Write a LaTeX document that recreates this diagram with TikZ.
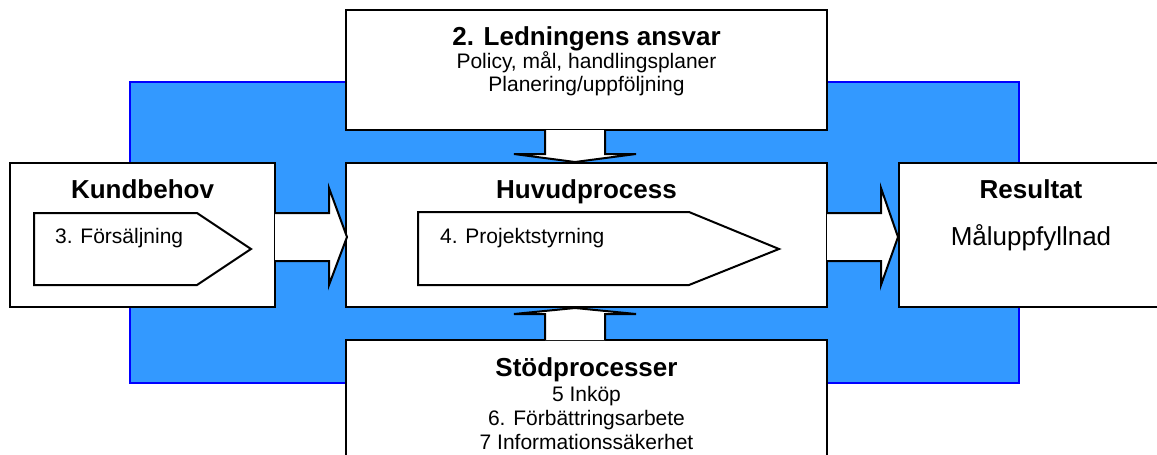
\documentclass[tikz,border=0pt]{standalone}
\usepackage{fontspec}
\setmainfont{Liberation Sans}
\definecolor{bgblue}{RGB}{51,153,255}
\definecolor{bgedge}{RGB}{0,0,255}
\begin{document}
\begin{tikzpicture}[x=1pt,y=-1pt,
  box/.style={draw=black, line width=2.2pt, fill=white, inner sep=0pt, outer sep=0pt, anchor=north west},
  ttl/.style={font=\bfseries\fontsize{26}{30}\selectfont, inner sep=0pt, anchor=base},
  body/.style={font=\fontsize{21}{24}\selectfont, inner sep=0pt, anchor=base},
  barrow/.style={draw=black, line width=2pt, fill=white, line join=miter},
  pent/.style={draw=black, line width=2pt, fill=white, line join=miter}]
\useasboundingbox (0,0) rectangle (1157,455);
% background
\node[draw=bgedge, fill=bgblue, line width=2pt, inner sep=0pt, outer sep=0pt, anchor=north west,
  minimum width=889pt, minimum height=301pt] (bg) at (130,82) {};
% boxes
\node[box, minimum width=481pt, minimum height=120pt] (led) at (346,10) {};
\node[box, minimum width=481pt, minimum height=144pt] (huv) at (346,163) {};
\node[box, minimum width=481pt, minimum height=140pt] (sto) at (346,340) {};
\node[box, minimum width=265pt, minimum height=144pt] (kund) at (10,163) {};
\node[box, minimum width=264pt, minimum height=144pt] (res) at (899,163) {};
% pentagons
\draw[pent] (34,213) -- (197,213) -- (251,249) -- (197,285) -- (34,285) -- cycle;
\draw[pent] (418,212) -- (689,212) -- (779,249) -- (689,285) -- (418,285) -- cycle;
% block arrows
\draw[barrow] (275,213) -- (329,213) -- (329,188) -- (347,237) -- (329,285) -- (329,261) -- (275,261);
\draw[barrow] (827,213) -- (881,213) -- (881,188) -- (898,237) -- (881,285) -- (881,261) -- (827,261);
\draw[barrow] (545,130) -- (545,154) -- (514,154) -- (575,162) -- (636,154) -- (605,154) -- (605,130);
\draw[barrow] (545,340) -- (545,314) -- (514,314) -- (575,308) -- (636,314) -- (605,314) -- (605,340);
% texts
\node[ttl] (ledt) at (586.5,45.7) {2. Ledningens ansvar};
\node[body] (led1) at (586.5,68.3) {Policy, mål, handlingsplaner};
\node[body] (led2) at (586.5,91.7) {Planering/uppföljning};
\node[ttl] (huvt) at (586.5,198.3) {Huvudprocess};
\node[body, anchor=base west] (proj) at (440,243.3) {4. Projektstyrning};
\node[ttl] (kundt) at (142.5,198.3) {Kundbehov};
\node[body, anchor=base west] (fors) at (55,243.3) {3. Försäljning};
\node[ttl] (rest) at (1031,198.3) {Resultat};
\node[body, font=\fontsize{26}{30}\selectfont] (mal) at (1031,245) {Måluppfyllnad};
\node[ttl] (stot) at (586.5,376) {Stödprocesser};
\node[body] (sto1) at (586.5,401.7) {5 Inköp};
\node[body] (sto2) at (586.5,425.7) {6. Förbättringsarbete};
\node[body] (sto3) at (586.5,449) {7 Informationssäkerhet};
\end{tikzpicture}
\end{document}
